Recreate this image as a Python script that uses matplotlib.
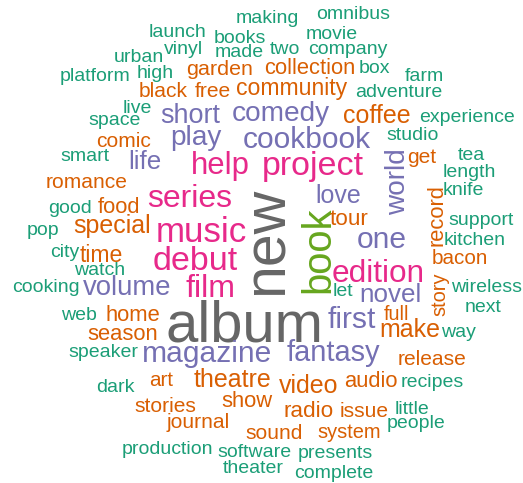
import matplotlib
matplotlib.use("Agg")
import matplotlib.pyplot as plt

# ---- data: words grouped by frequency tier (highest first) ----
tier_gray = ["new", "album"]
tier_lime = ["book"]
tier_pink = ["help", "project", "series", "music", "debut", "film", "edition"]
tier_purple = ["short", "comedy", "play", "cookbook", "life", "world", "love",
               "one", "volume", "novel", "first", "magazine", "fantasy"]
tier_orange = ["garden", "collection", "black", "free", "community", "coffee",
               "comic", "get", "romance", "food", "tour", "record", "special",
               "time", "bacon", "home", "full", "story", "season", "make",
               "release", "art", "theatre", "video", "audio", "show", "stories",
               "radio", "issue", "journal", "sound", "system"]
tier_green = ["launch", "making", "omnibus", "books", "movie", "urban", "vinyl",
              "made", "two", "company", "platform", "high", "box", "farm",
              "adventure", "live", "space", "experience", "studio", "smart",
              "tea", "length", "knife", "good", "support", "pop", "kitchen",
              "city", "watch", "let", "wireless", "cooking", "web", "next",
              "way", "speaker", "dark", "recipes", "little", "people",
              "production", "software", "presents", "theater", "complete"]

# relative weight of each word (rendered size)
weights = {
    "new": 59, "album": 58, "book": 40,
    "help": 31, "project": 34, "series": 32, "music": 35, "debut": 34,
    "film": 32, "edition": 31.5,
    "short": 27, "comedy": 28, "play": 28, "cookbook": 30, "life": 26,
    "world": 28, "love": 25, "one": 30, "volume": 27.5, "novel": 26,
    "first": 30, "magazine": 30, "fantasy": 29,
    "garden": 21.5, "collection": 22, "black": 21, "free": 21,
    "community": 23, "coffee": 25, "comic": 21, "get": 21, "romance": 21,
    "food": 22, "tour": 22.5, "record": 22, "special": 25, "time": 23,
    "bacon": 20.6, "home": 22, "full": 20, "story": 20, "season": 22,
    "make": 25, "release": 21, "art": 20.5, "theatre": 25, "video": 25,
    "audio": 22, "show": 22, "stories": 21, "radio": 22.5, "issue": 21,
    "journal": 21, "sound": 21, "system": 20,
}
default_green_weight = 19.5

# ---- layout (pixel positions: x centre / baseline, rotation) ----
layout = {
    "new": (283, 241, 90), "album": (245, 342, 0), "book": (329, 250, 90),
    "help": (220, 174, 0), "project": (313, 175, 0), "series": (190, 207, 0),
    "music": (201, 242, 0), "debut": (195, 270, 0), "film": (210, 297, 0),
    "edition": (378.5, 282, 0),
    "short": (190, 123, 0), "comedy": (280.5, 121, 0), "play": (196, 145, 0),
    "cookbook": (307, 148, 0), "life": (145, 169, 0), "world": (405, 182, 90),
    "love": (338, 203, 0), "one": (382, 248, 0), "volume": (127.5, 295, 0),
    "novel": (390.5, 302, 0), "first": (352, 328, 0),
    "magazine": (207.5, 362, 0), "fantasy": (333.5, 361, 0),
    "garden": (219.5, 75, 0), "collection": (309.5, 74, 0),
    "black": (163.5, 97, 0), "free": (213, 97, 0), "community": (291.5, 95, 0),
    "coffee": (377, 123, 0), "comic": (123.5, 147, 0), "get": (421.5, 163, 0),
    "romance": (87, 188, 0), "food": (118.5, 213, 0), "tour": (348.5, 225, 0),
    "record": (442, 215, 90), "special": (112.5, 233, 0), "time": (101.5, 262, 0),
    "bacon": (460, 264, 0), "home": (132.5, 321, 0), "full": (396, 320, 0),
    "story": (445, 294, 90), "season": (122.5, 340, 0), "make": (409.5, 337, 0),
    "release": (432, 365, 0), "art": (161, 386, 0), "theatre": (232, 387, 0),
    "video": (309, 393, 0), "audio": (371, 387, 0), "show": (246.5, 407, 0),
    "stories": (165, 412, 0), "radio": (309, 417, 0), "issue": (364.5, 417, 0),
    "journal": (198.5, 428, 0), "sound": (274.5, 439, 0), "system": (349, 438, 0),
    "launch": (177.5, 37, 0), "making": (267.5, 23, 0), "omnibus": (353, 19, 0),
    "books": (240, 43, 0), "movie": (332, 39, 0), "urban": (139, 62, 0),
    "vinyl": (183, 54, 0), "made": (239, 57, 0), "two": (285, 54, 0),
    "company": (347.5, 54, 0), "platform": (95, 81, 0), "high": (155, 78, 0),
    "box": (374, 73, 0), "farm": (424.5, 81, 0), "adventure": (399, 97, 0),
    "live": (137, 113, 0), "space": (115, 125, 0), "experience": (467, 122, 0),
    "studio": (413, 140, 0), "smart": (85, 161, 0), "tea": (471, 160, 0),
    "length": (469.5, 177, 0), "knife": (463, 195, 0), "good": (70, 213, 0),
    "support": (481.5, 225, 0), "pop": (43.5, 235, 0), "kitchen": (475, 245, 0),
    "city": (65, 257, 0), "watch": (100, 275, 0), "let": (342.5, 296, 0),
    "wireless": (486.5, 292, 0), "cooking": (46, 292, 0), "web": (79, 320, 0),
    "next": (483, 312, 0), "way": (458.5, 337, 0), "speaker": (103.5, 357, 0),
    "dark": (115, 392, 0), "recipes": (432, 387, 0), "little": (412, 414, 0),
    "people": (416, 428, 0), "production": (167.5, 454, 0),
    "software": (254.5, 457, 0), "presents": (335, 458, 0),
    "theater": (253.5, 473, 0), "complete": (334, 478, 0),
}

tier_colours = [
    (tier_gray, "#666666"),
    (tier_lime, "#66A61E"),
    (tier_pink, "#E7298A"),
    (tier_purple, "#7570B3"),
    (tier_orange, "#D95F02"),
    (tier_green, "#1B9E77"),
]

W, H, DPI = 523, 483, 100
fig = plt.figure(figsize=(W / DPI, H / DPI), dpi=DPI)
fig.patch.set_facecolor("white")
ax = fig.add_axes([0, 0, 1, 1])
ax.set_xlim(0, W)
ax.set_ylim(H, 0)
ax.axis("off")

for words, colour in tier_colours:
    for w in words:
        x, y, rot = layout[w]
        size_px = weights.get(w, default_green_weight)
        ax.text(x, y, w, fontsize=size_px * 72 / DPI, color=colour,
                ha="center", va="baseline", rotation=rot,
                rotation_mode="anchor", family="Liberation Sans")

fig.savefig("out.png", dpi=DPI, facecolor="white")
